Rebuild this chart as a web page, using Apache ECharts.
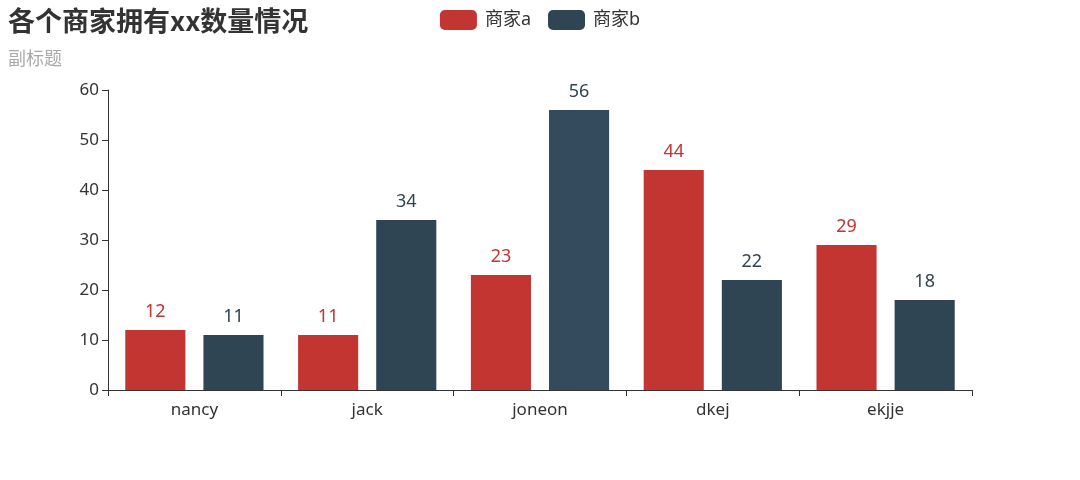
<!DOCTYPE html>
<html><head><meta charset="utf-8">
<script src="https://cdn.jsdelivr.net/npm/echarts@6/dist/echarts.min.js"></script>
<style>html,body{margin:0;padding:0;background:#fff}#c{width:1080px;height:480px}</style>
</head><body><div id="c"></div>
<script>
var categories = ["nancy", "jack", "joneon", "dkej", "ekjje"];
var seriesAName = "商家a";
var seriesBName = "商家b";
var valuesA = [12, 11, 23, 44, 29];
var valuesB = [11, 34, 56, 22, 18];
var titleText = "各个商家拥有xx数量情况";
var subtitleText = "副标题";

var FONT = '"Noto Sans","Noto Sans CJK SC",sans-serif';
var chart = echarts.init(document.getElementById('c'), null, {renderer: 'canvas'});
var dataB = valuesB.map(function (v, i) {
  return i === 2 ? {value: v, itemStyle: {color: '#344b5e'}} : v;
});
chart.setOption({
  animation: false,
  color: ['#c23531', '#2f4554'],
  textStyle: {fontFamily: FONT},
  title: {
    text: titleText, subtext: subtitleText, left: 3, top: 2, itemGap: 15,
    textStyle: {fontSize: 27, fontWeight: 'bold', color: '#333', fontFamily: '"Noto Sans CJK SC",sans-serif'},
    subtextStyle: {fontSize: 18, color: '#aaa', fontFamily: '"Noto Sans CJK SC",sans-serif'}
  },
  legend: {
    data: [seriesAName, seriesBName], left: 'center', top: 5,
    itemWidth: 37, itemHeight: 20, itemGap: 17,
    textStyle: {fontSize: 18, color: '#333', fontFamily: FONT, padding: [0, 0, 0, 3]}
  },
  grid: {left: 108, right: 108, top: 90, bottom: 90},
  xAxis: {
    type: 'category', data: categories,
    axisLine: {lineStyle: {color: '#333'}},
    axisTick: {show: true, lineStyle: {color: '#333'}, length: 6},
    axisLabel: {fontSize: 17, color: '#333', margin: 12, fontFamily: FONT}
  },
  yAxis: {
    type: 'value', min: 0, max: 60, interval: 10,
    axisLine: {show: true, lineStyle: {color: '#333'}},
    axisTick: {show: true, lineStyle: {color: '#333'}, length: 6},
    splitLine: {show: false},
    axisLabel: {fontSize: 17, color: '#333', margin: 9, fontFamily: FONT}
  },
  series: [
    {name: seriesAName, type: 'bar', data: valuesA, barGap: '30%', barCategoryGap: '20%',
     label: {show: true, position: 'top', fontSize: 18, color: '#c23531', distance: 9, fontFamily: FONT}},
    {name: seriesBName, type: 'bar', data: dataB, barGap: '30%', barCategoryGap: '20%',
     label: {show: true, position: 'top', fontSize: 18, color: '#2f4554', distance: 9, fontFamily: FONT}}
  ]
});
</script></body></html>
